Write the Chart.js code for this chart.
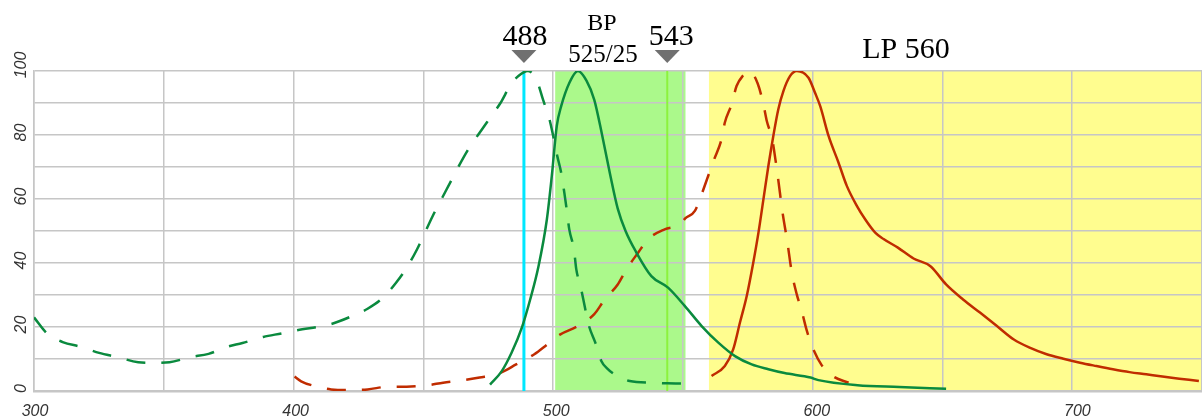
<!DOCTYPE html>
<html>
<head>
<meta charset="utf-8">
<title>Filter set spectra</title>
<script src="https://cdn.jsdelivr.net/npm/chart.js@4.4.1/dist/chart.umd.min.js"></script>
<style>
    html, body { margin: 0; padding: 0; background: #ffffff; }
    #chartWrap { width: 1202px; height: 418px; overflow: hidden; }
</style>
</head>
<body>
<div id="chartWrap"><canvas id="spectraChart" width="1202" height="418"></canvas></div>
<script>
// Green dye excitation (dashed)
const greenExNm = [300, 305, 311, 318, 325, 332, 340, 346, 352, 360, 367, 374, 380, 388, 395, 401,
    413.5, 422, 428, 434, 439, 443, 447, 450, 453, 456, 460, 463, 467, 471, 476, 479, 483, 486, 489.5,
    493, 495.3, 497.8, 499.1, 500.8, 502.3, 503.5, 504.4, 505.4, 507.2, 508.1, 509.7, 511.3, 512.8,
    515.4, 517.7, 520, 522.8, 528.6, 537, 543, 550];
const greenExVal = [23, 18, 15.3, 13.8, 11.9, 10.6, 9, 8.8, 9, 10.6, 11.6, 13.8, 15, 16.9, 18, 19,
    20.8, 23.4, 25.7, 29.2, 33.9, 38.5, 44.3, 49.5, 54.7, 59.4, 65.6, 70.3, 76, 80.7, 86.5, 90, 95.8, 98.5, 100,
    96.9, 91.1, 84.9, 80.2, 73.4, 68.2, 62, 56.8, 50.5, 44.3, 38, 32.8, 26.6, 20.8,
    15.1, 9.4, 7, 5.2, 3.1, 2.6, 2.4, 2.3];

// Green dye emission (solid)
const greenEmNm = [475, 479.5, 483.3, 487.2, 490.4, 493.6, 496.8, 498.7, 500.6, 502.3, 505.5, 508.7,
    512, 515, 518, 521, 524, 527, 531, 536.9, 543.3, 549.7, 556.2, 562.6, 569, 575.4, 581.8, 588,
    598, 601, 616, 632, 650];
const greenEmVal = [2, 6.2, 12, 19.8, 28.6, 39, 53.6, 67.2, 82.8, 89, 96.4, 100,
    97, 91, 80, 68, 57, 50, 43.5, 35.9, 32.3, 26.6, 20.3, 15.1, 10.9, 8.3, 6.8, 5.6,
    4.2, 3.4, 1.8, 1.25, 0.7];

// Red dye excitation (dashed)
const redExNm = [400, 402.5, 408, 414, 422, 428, 436, 443, 451, 457, 465, 471, 479, 485, 492, 497, 502,
    508.7, 515, 519, 524, 527.3, 531.8, 535.6, 542, 547.8, 550, 553.6, 556.2, 558.7, 561, 563.8, 565.1,
    567.7, 569.6, 572, 574.5, 577.7, 579.9, 581.2, 583.3, 584.5, 585.6, 587.2, 589, 590.8, 592.7, 594.6,
    596.5, 598.5, 602.3, 606.8, 612.6];
const redExVal = [4.5, 3, 1.5, 0.5, 0.3, 0.5, 1.35, 1.35, 1.8, 2.6, 3.4, 4.2, 5.7, 8.3, 11.5, 14.6, 17.7,
    20.3, 24, 28.6, 33.3, 38, 43.2, 47.4, 50.5, 52, 54, 56.3, 61.5, 67.2, 72.4, 78.6, 83.9,
    89.6, 95.3, 98.5, 100, 96.1, 89.6, 84.4, 78.6, 72.4, 66, 56, 47, 37, 30.2, 25,
    19, 14.1, 8, 4.5, 2.6];

// Red dye emission (solid)
const redEmNm = [560, 565.1, 568.3, 570.9, 573.5, 576, 578, 579.9, 581.8, 583.7, 585.6, 587.6, 590.1, 592.7,
    597.2, 599.7, 601.7, 604.9, 608.7, 611.9, 615.8, 619, 622.8, 626, 631.5, 637.5, 644, 650, 656.5,
    663, 669.5, 676, 682.3, 688.6, 695, 701.4, 707.7, 714, 720.4, 726.8, 733, 739.5, 747];
const redEmVal = [4.7, 7.8, 13, 21.4, 29.7, 40.1, 49.5, 59.9, 70.3, 79.7, 88, 93.8, 98.4, 100,
    97.9, 93.2, 89, 79.7, 71.4, 64.1, 57.8, 53.6, 49.5, 47.5, 44.8, 41.4, 39, 33.3, 28.6,
    24.5, 20.3, 16.1, 13.5, 11.5, 10.1, 8.85, 7.8, 6.8, 5.9, 5.2, 4.5, 3.85, 3.1];

// Axes
const xRange = [300, 748.2];
const yRange = [0, 100];
const xTickLabels = [300, 400, 500, 600, 700];
const yTickLabels = [0, 20, 40, 60, 80, 100];

// Filters and laser lines
const bpBand = [500, 550];
const lpBand = [559, 748.2];
const laserLines = [488, 543];

const colors = {
    green: '#0a8a3e',
    red: '#c02c00',
    bpFill: '#abf98b',
    lpFill: '#fffd8f',
    laser488: '#00e8ff',
    laser543: '#8cf23e',
    marker: '#707070',
    grid: '#c6c6c6',
    tick: '#333333'
};

const tickFont = 'italic 16px "Liberation Sans", Arial, sans-serif';
const toPoints = (xs, ys) => xs.map((x, i) => ({ x: x, y: ys[i] }));

const annotationPlugin = {
    id: 'filterAnnotations',
    beforeDraw(chart) {
        const { ctx, chartArea, scales } = chart;
        const x = scales.x;
        ctx.save();
        ctx.fillStyle = colors.bpFill;
        const b0 = x.getPixelForValue(bpBand[0]), b1 = x.getPixelForValue(bpBand[1]);
        ctx.fillRect(b0, chartArea.top, b1 - b0, chartArea.bottom - chartArea.top);
        ctx.fillStyle = colors.lpFill;
        const l0 = x.getPixelForValue(lpBand[0]), l1 = x.getPixelForValue(lpBand[1]);
        ctx.fillRect(l0, chartArea.top, l1 - l0, chartArea.bottom - chartArea.top);
        ctx.restore();
    },
    beforeDatasetsDraw(chart) {
        const { ctx, chartArea, scales } = chart;
        ctx.save();
        [[laserLines[0], colors.laser488, 3], [laserLines[1], colors.laser543, 2]].forEach(([nm, c, w]) => {
            const px = scales.x.getPixelForValue(nm);
            ctx.strokeStyle = c;
            ctx.lineWidth = w;
            ctx.beginPath();
            ctx.moveTo(px, chartArea.top);
            ctx.lineTo(px, chartArea.bottom);
            ctx.stroke();
        });
        ctx.restore();
    },
    afterDraw(chart) {
        const { ctx, scales, chartArea } = chart;
        const x = scales.x, y = scales.y;
        ctx.save();

        // tick labels
        ctx.fillStyle = colors.tick;
        ctx.font = tickFont;
        ctx.textAlign = 'center';
        ctx.textBaseline = 'middle';
        xTickLabels.forEach(v => {
            ctx.fillText(String(v), x.getPixelForValue(v) + 1, chartArea.bottom + 21);
        });
        yTickLabels.forEach(v => {
            const py = y.getPixelForValue(v) - (v === yRange[1] ? 6 : 2.5);
            ctx.save();
            ctx.translate(22, py);
            ctx.rotate(-Math.PI / 2);
            ctx.fillText(String(v), 0, 0);
            ctx.restore();
        });

        // laser markers
        ctx.fillStyle = colors.marker;
        laserLines.forEach(nm => {
            const px = x.getPixelForValue(nm);
            ctx.beginPath();
            ctx.moveTo(px - 12.5, 50);
            ctx.lineTo(px + 12.5, 50);
            ctx.lineTo(px, 63);
            ctx.closePath();
            ctx.fill();
        });

        ctx.fillStyle = '#000000';
        ctx.textBaseline = 'alphabetic';
        ctx.textAlign = 'center';
        ctx.font = '30px "Liberation Serif", "Times New Roman", serif';
        ctx.fillText('488', x.getPixelForValue(laserLines[0]) + 1, 45);
        ctx.fillText('543', x.getPixelForValue(laserLines[1]) + 4, 45);
        ctx.fillText('LP 560', 906, 58);
        ctx.font = '24px "Liberation Serif", "Times New Roman", serif';
        ctx.fillText('BP', 602, 30);
        ctx.font = '25px "Liberation Serif", "Times New Roman", serif';
        ctx.fillText('525/25', 603, 62);
        ctx.restore();
    }
};

const lineStyle = (color, dashed) => ({
    borderColor: color,
    backgroundColor: color,
    borderWidth: 2.5,
    borderDash: dashed ? [19, 16] : [],
    pointRadius: 0,
    fill: false,
    cubicInterpolationMode: 'monotone'
});

new Chart(document.getElementById('spectraChart').getContext('2d'), {
    type: 'line',
    data: {
        datasets: [
            { label: 'Green excitation', data: toPoints(greenExNm, greenExVal), ...lineStyle(colors.green, true) },
            { label: 'Green emission', data: toPoints(greenEmNm, greenEmVal), ...lineStyle(colors.green, false) },
            { label: 'Red excitation', data: toPoints(redExNm, redExVal), ...lineStyle(colors.red, true) },
            { label: 'Red emission', data: toPoints(redEmNm, redEmVal), ...lineStyle(colors.red, false) }
        ]
    },
    options: {
        responsive: false,
        animation: false,
        devicePixelRatio: 1,
        layout: { padding: { top: 71, left: 0, right: 0, bottom: 0 } },
        plugins: {
            legend: { display: false },
            tooltip: { enabled: false }
        },
        scales: {
            x: {
                type: 'linear',
                bounds: 'data',
                min: xRange[0],
                max: xRange[1],
                afterBuildTicks: scale => {
                    scale.ticks = scale.ticks.filter(t => t.value <= xRange[1]);
                },
                afterFit: scale => { scale.height = 27; },
                grid: { color: colors.grid, lineWidth: 1.5, drawTicks: false },
                border: { color: colors.grid, width: 2.5 },
                ticks: { stepSize: 50, includeBounds: false, display: false }
            },
            y: {
                min: yRange[0],
                max: yRange[1],
                afterFit: scale => { scale.width = 34; },
                grid: { color: colors.grid, lineWidth: 1.5, drawTicks: false },
                border: { color: colors.grid, width: 1.5 },
                ticks: { stepSize: 10, display: false }
            }
        }
    },
    plugins: [annotationPlugin]
});
</script>
</body>
</html>
